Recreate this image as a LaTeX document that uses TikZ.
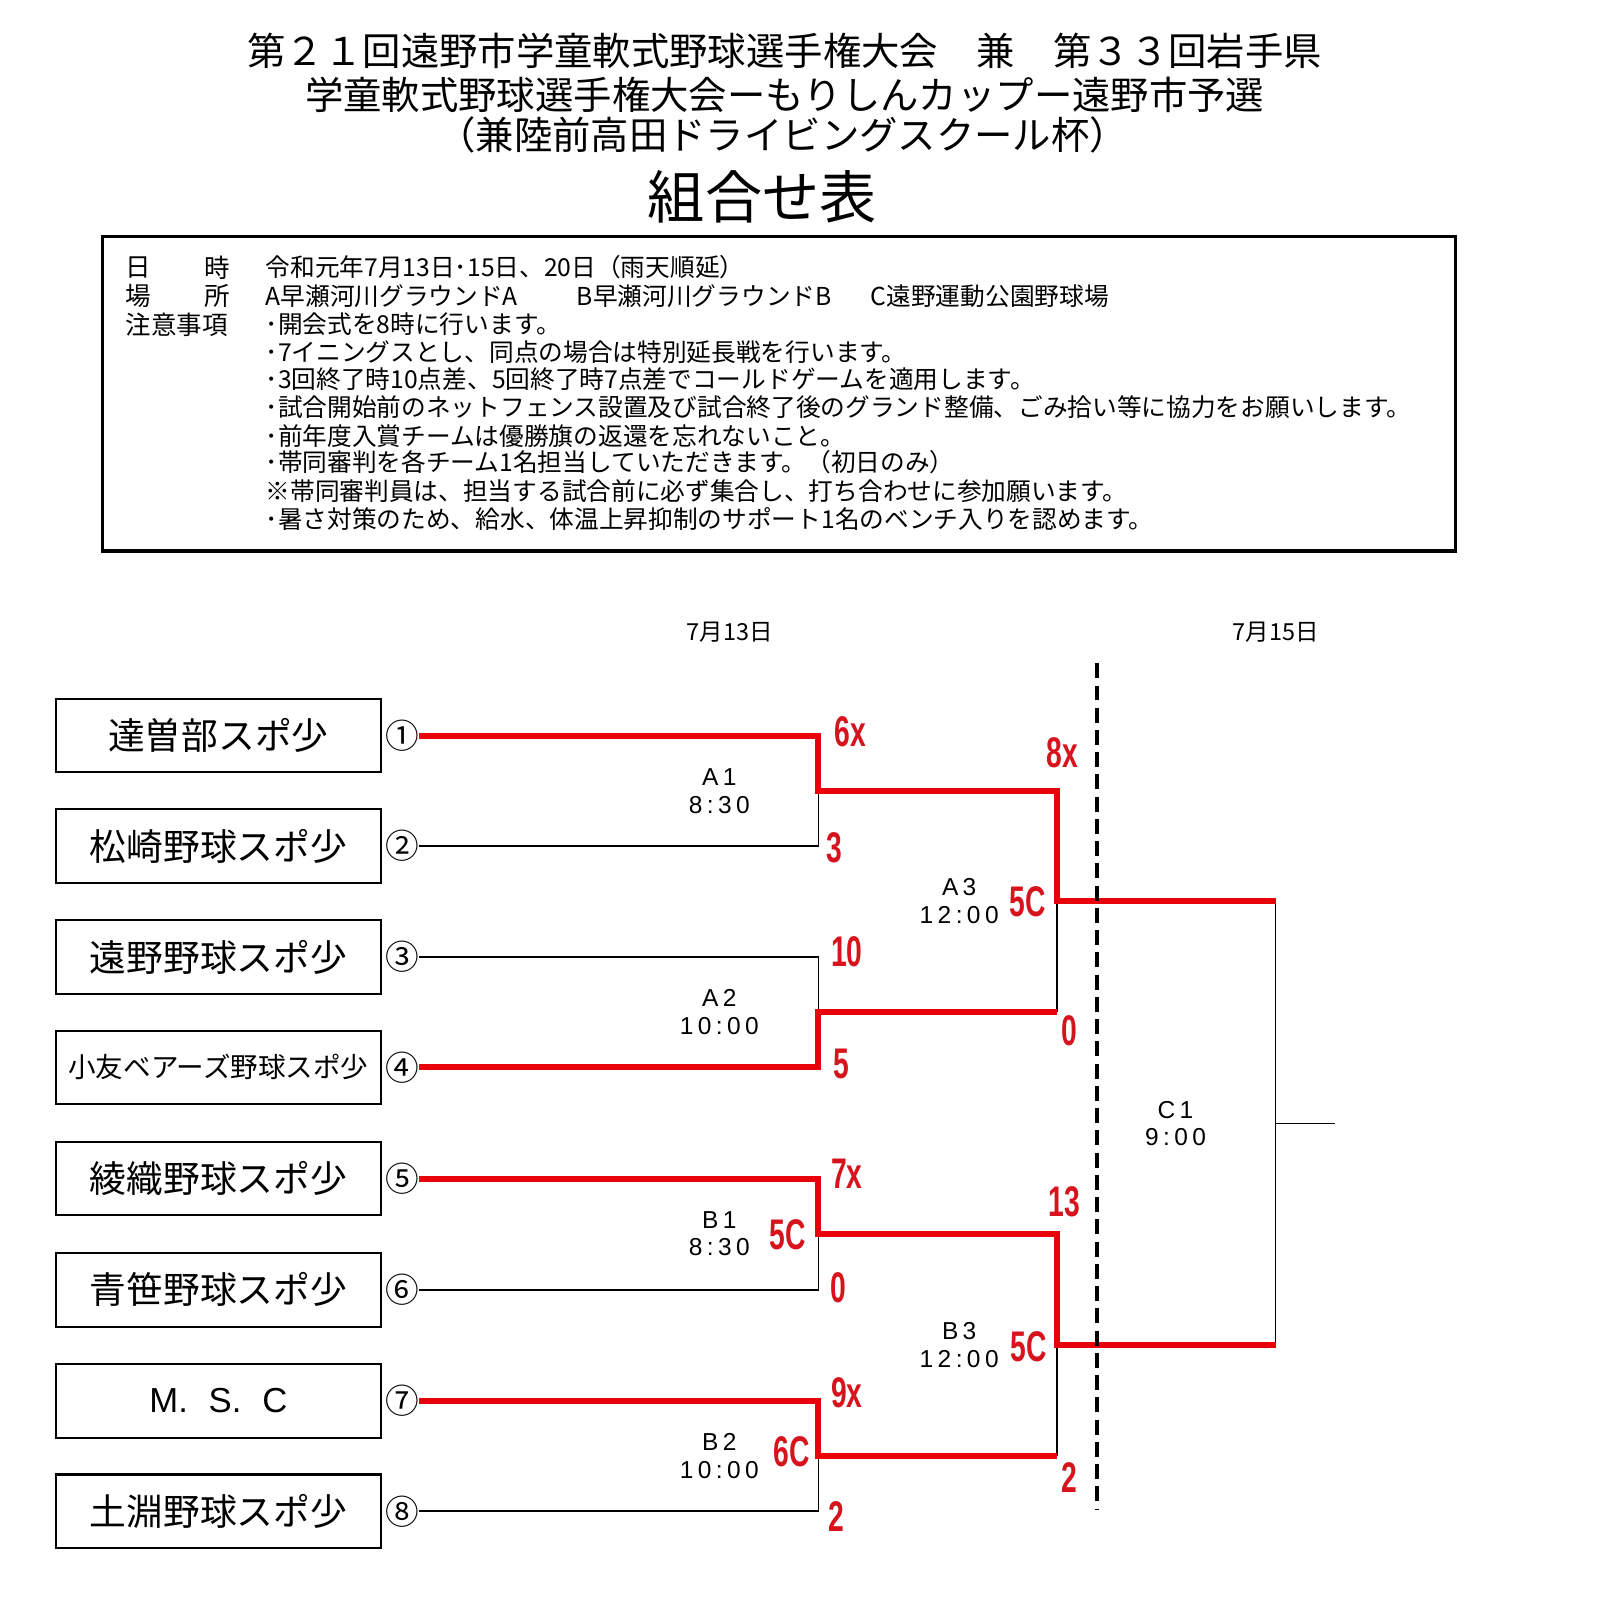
\documentclass[tikz,border=0pt]{standalone}
\usepackage{fontspec}
\setmainfont{Noto Sans CJK JP}
\newfontfamily\latinf{Liberation Sans}
\newfontfamily\scoref[FakeStretch=0.66]{Liberation Sans Bold}
\newfontfamily\matchf[LetterSpace=18]{Liberation Sans}
\definecolor{lred}{RGB}{232,0,10}
\definecolor{tred}{RGB}{215,20,30}
\begin{document}
\begin{tikzpicture}[x=0.5pt,y=-0.5pt,
  team/.style={draw, line width=1pt, minimum width=159pt, minimum height=36pt, inner sep=0pt, font=\fontsize{18}{18}\selectfont},
  num/.style={inner sep=0pt, font=\fontsize{16.5}{16.5}\selectfont},
  win/.style={draw=lred, line width=3pt, line join=miter},
  lose/.style={draw=black, line width=0.75pt},
  sc/.style={text=tred, inner sep=0pt, font=\scoref\fontsize{21}{21}\selectfont},
  ml/.style={inner sep=0pt, align=center, font=\matchf\fontsize{12}{13.6}\selectfont},
  info/.style={anchor=west, inner sep=0pt, font=\fontsize{12.1}{12.1}\selectfont},
  lab/.style={inner sep=0pt, font=\fontsize{12.5}{12.5}\selectfont},
  ttl/.style={inner sep=0pt, font=\fontsize{18.8}{18.8}\selectfont},
  datef/.style={inner sep=0pt, font=\fontsize{11.5}{11.5}\selectfont}
]
\useasboundingbox (0,0) rectangle (1565,1568);

% titles
\node[ttl] (h1) at (769,50) {第２１回遠野市学童軟式野球選手権大会　兼　第３３回岩手県};
\node[ttl] (h2) at (769,93) {学童軟式野球選手権大会ーもりしんカップー遠野市予選};
\node[ttl] (h3) at (767,132) {（兼陸前高田ドライビングスクール杯）};
\node[inner sep=0pt, font=\fontsize{28}{28}\selectfont] (h4) at (747,193) {組合せ表};

% info box
\draw[line width=1.5pt] (100,232) rectangle (1426,540);
\node[lab, anchor=west] (l1a) at (123,262) {日};
\node[lab, anchor=east] (l1b) at (226,262) {時};
\node[lab, anchor=west] (l2a) at (123,290) {場};
\node[lab, anchor=east] (l2b) at (226,290) {所};
\node[lab, anchor=west] (l3) at (123,318) {注意事項};
\node[info] (i1) at (260,262) {令和元年7月13日･15日、20日（雨天順延）};
\node[info] (i2a) at (260,290) {A早瀬河川グラウンドA};
\node[info] (i2b) at (565,290) {B早瀬河川グラウンドB};
\node[info] (i2c) at (853,290) {C遠野運動公園野球場};
\node[info] (i3) at (260,318) {･開会式を8時に行います。};
\node[info] (i4) at (260,345) {･7イニングスとし、同点の場合は特別延長戦を行います。};
\node[info] (i5) at (260,372) {･3回終了時10点差、5回終了時7点差でコールドゲームを適用します。};
\node[info] (i6) at (260,399) {･試合開始前のネットフェンス設置及び試合終了後のグランド整備、ごみ拾い等に協力をお願いします。};
\node[info] (i7) at (260,427) {･前年度入賞チームは優勝旗の返還を忘れないこと。};
\node[info] (i8) at (260,453) {･帯同審判を各チーム1名担当していただきます。（初日のみ）};
\node[info] (i9) at (260,481) {※帯同審判員は、担当する試合前に必ず集合し、打ち合わせに参加願います。};
\node[info] (i10) at (260,509) {･暑さ対策のため、給水、体温上昇抑制のサポート1名のベンチ入りを認めます。};

% dates
\node[datef] (d13) at (715,620) {7月13日};
\node[datef] (d15) at (1250,620) {7月15日};

% teams
\node[team] (t1) at (214,721) {達曽部スポ少};
\node[team] (t2) at (214,829) {松崎野球スポ少};
\node[team] (t3) at (214,938) {遠野野球スポ少};
\node[team, font=\fontsize{13.5}{13.5}\selectfont] (t4) at (214,1046) {小友ベアーズ野球スポ少};
\node[team] (t5) at (214,1155) {綾織野球スポ少};
\node[team] (t6) at (214,1264) {青笹野球スポ少};
\node[team, font=\latinf\fontsize{17}{17}\selectfont] (t7) at (214,1373) {M.\hspace{0.6em}S.\hspace{0.6em}C};
\node[team] (t8) at (214,1481) {土淵野球スポ少};

% circled numbers
\node[num] (n1) at (394,721) {①};
\node[num] (n2) at (394,829) {②};
\node[num] (n3) at (394,938) {③};
\node[num] (n4) at (394,1046) {④};
\node[num] (n5) at (394,1155) {⑤};
\node[num] (n6) at (394,1264) {⑥};
\node[num] (n7) at (394,1373) {⑦};
\node[num] (n8) at (394,1481) {⑧};

% bracket coordinates
\coordinate (e1) at (802,721);
\coordinate (e2) at (802,829);
\coordinate (e3) at (802,938);
\coordinate (e4) at (802,1046);
\coordinate (e5) at (802,1155);
\coordinate (e6) at (802,1264);
\coordinate (e7) at (802,1373);
\coordinate (e8) at (802,1481);
\coordinate (mA1) at (802,775);
\coordinate (mA2) at (802,992);
\coordinate (mB1) at (802,1209);
\coordinate (mB2) at (802,1427);
\coordinate (rA1) at (1036,775);
\coordinate (rA2) at (1036,992);
\coordinate (rB1) at (1036,1209);
\coordinate (rB2) at (1036,1427);
\coordinate (mA3) at (1036,883);
\coordinate (mB3) at (1036,1318);
\coordinate (fA) at (1250,883);
\coordinate (fB) at (1250,1318);
\coordinate (mC) at (1250,1101);
\coordinate (out) at (1308,1101);
\coordinate (dv1) at (1075,650);
\coordinate (dv2) at (1075,1480);

% losing / neutral lines
\draw[lose] (n2.east) -- (e2) -- (mA1);
\draw[lose] (n3.east) -- (e3) -- (mA2);
\draw[lose] (rA2) -- (mA3);
\draw[lose] (n6.east) -- (e6) -- (mB1);
\draw[lose] (n8.east) -- (e8) -- (mB2);
\draw[lose] (rB2) -- (mB3);
\draw[lose] (fA) -- (fB);
\draw[lose] (mC) -- (out);

% winning lines
\draw[win] (n1.east) -- (e1) -- (mA1) -- (rA1) -- (mA3) -- (fA);
\draw[win] (n4.east) -- (e4) -- (mA2) -- (rA2);
\draw[win] (n5.east) -- (e5) -- (mB1) -- (rB1) -- (mB3) -- (fB);
\draw[win] (n7.east) -- (e7) -- (mB2) -- (rB2);

% dashed day separator
\draw[line width=2.3pt, dash pattern=on 7.3pt off 3.6pt] (dv1) -- (dv2);

% match labels
\node[ml] (mlA1) at (705,775) {A1\\8:30};
\node[ml] (mlA2) at (705,992) {A2\\10:00};
\node[ml] (mlA3) at (940,883) {A3\\12:00};
\node[ml] (mlB1) at (705,1209) {B1\\8:30};
\node[ml] (mlB2) at (705,1427) {B2\\10:00};
\node[ml] (mlB3) at (940,1318) {B3\\12:00};
\node[ml] (mlC1) at (1152,1101) {C1\\9:00};

% scores
\node[sc] (s1) at (833,717) {6x};
\node[sc] (s2) at (818,831) {3};
\node[sc] (s3) at (830,933) {10};
\node[sc] (s4) at (825,1043) {5};
\node[sc] (s5) at (1041,738) {8x};
\node[sc] (s6) at (1007,884) {5C};
\node[sc] (s7) at (1048,1010) {0};
\node[sc] (s8) at (830,1150) {7x};
\node[sc] (s9) at (772,1210) {5C};
\node[sc] (s10) at (822,1262) {0};
\node[sc] (s11) at (830,1365) {9x};
\node[sc] (s12) at (776,1423) {6C};
\node[sc] (s13) at (820,1486) {2};
\node[sc] (s14) at (1043,1178) {13};
\node[sc] (s15) at (1008,1320) {5C};
\node[sc] (s16) at (1048,1448) {2};
\end{tikzpicture}
\end{document}
